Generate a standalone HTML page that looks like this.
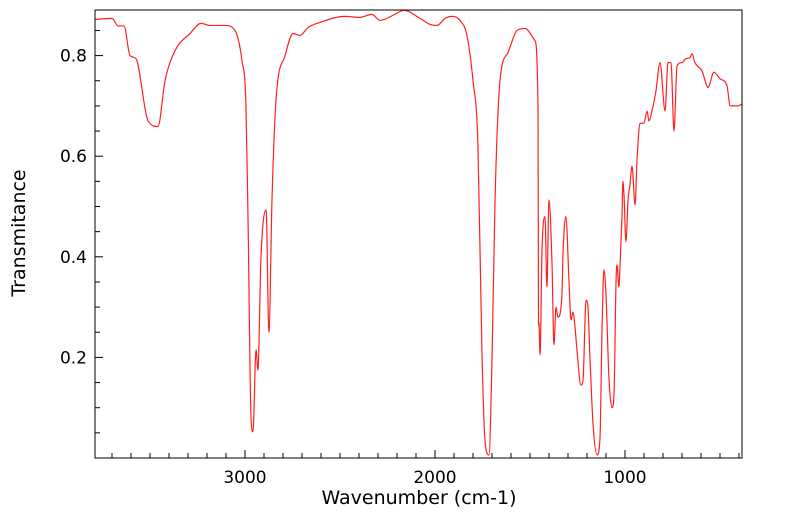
<!DOCTYPE html>
<html><head><meta charset="utf-8"><style>
body{margin:0;background:#fff;}
svg text{font-family:"DejaVu Sans","Liberation Sans",sans-serif;}
</style></head><body>
<svg id="chart" width="799" height="516" xmlns="http://www.w3.org/2000/svg">
<g id="axes"></g>
<path id="series" fill="none" stroke="#ff2020" stroke-width="1.2"/>
<rect x="95" y="10" width="647" height="448" fill="none" stroke="#000" stroke-width="1"/>
<text x="419" y="504" font-size="19" text-anchor="middle">Wavenumber (cm-1)</text>
<text x="25" y="233" font-size="19" text-anchor="middle" transform="rotate(-90 25 233)">Transmitance</text>
</svg>
<script>
const wavenumbers=[3789,3700,3668,3637,3605,3574,3511,3458,3421,3368,3289,3232,3184,3105,3053,3016,2995,2984,2968,2958,2942,2932,2916,2889,2874,2858,2837,2789,2747,2711,2668,2605,2474,2395,2332,2289,2211,2163,2079,2026,1989,1947,1911,1868,1832,1800,1774,1753,1737,1716,1700,1684,1658,1616,1568,1526,1474,1458,1455,1453,1447,1437,1421,1411,1400,1384,1374,1363,1353,1332,1326,1311,1295,1284,1274,1263,1253,1232,1221,1205,1195,1184,1168,1147,1132,1121,1111,1100,1084,1068,1058,1047,1042,1032,1026,1016,1011,1005,995,984,974,963,947,937,921,900,884,874,858,837,816,789,774,758,742,726,700,679,658,647,632,595,563,532,500,463,447,405,384];
const transmittance=[0.872,0.874,0.859,0.859,0.80,0.794,0.671,0.659,0.75,0.81,0.844,0.864,0.86,0.86,0.85,0.79,0.70,0.473,0.076,0.052,0.215,0.175,0.398,0.493,0.25,0.513,0.71,0.80,0.844,0.84,0.856,0.866,0.878,0.876,0.882,0.87,0.882,0.89,0.874,0.862,0.86,0.874,0.878,0.87,0.84,0.75,0.621,0.213,0.035,0.006,0.195,0.513,0.75,0.806,0.85,0.854,0.83,0.70,0.263,0.27,0.205,0.41,0.48,0.34,0.513,0.384,0.225,0.30,0.28,0.323,0.41,0.48,0.354,0.274,0.29,0.26,0.215,0.145,0.155,0.314,0.30,0.195,0.066,0.006,0.036,0.254,0.374,0.324,0.155,0.10,0.125,0.354,0.384,0.34,0.384,0.48,0.55,0.52,0.43,0.513,0.543,0.58,0.503,0.59,0.665,0.666,0.69,0.67,0.69,0.73,0.786,0.69,0.786,0.786,0.65,0.78,0.786,0.794,0.796,0.804,0.786,0.77,0.737,0.767,0.754,0.74,0.70,0.70,0.704];
const xTickLabels=[3000,2000,1000];
const yTickLabels=[0.2,0.4,0.6,0.8];
const L=95,R=742,T=10,B=458;
function xs(w){return 245+(3000-w)*0.19;}
function ys(t){return B-t*503;}
const ns="http://www.w3.org/2000/svg";
const ax=document.getElementById('axes');
function line(x1,y1,x2,y2,name){const l=document.createElementNS(ns,'line');l.setAttribute('x1',x1);l.setAttribute('y1',y1);l.setAttribute('x2',x2);l.setAttribute('y2',y2);l.setAttribute('stroke','#000');


ax.appendChild(l);}
function text(x,y,s,anchor,name){const t=document.createElementNS(ns,'text');t.setAttribute('x',x);t.setAttribute('y',y);t.setAttribute('font-size','17');t.setAttribute('text-anchor',anchor);t.textContent=s;


ax.appendChild(t);}
for(let w=3700;w>=400;w-=100){const x=xs(w);if(x<L||x>R)continue;const major=w%1000===0;line(x,B,x,B-(major?8:5),'x-tick');}
xTickLabels.forEach(w=>text(xs(w),B+25,String(w),'middle','x-tick-label'));
for(let k=1;k<=17;k++){const t=k*0.05;const y=ys(t);if(y<T)continue;const major=k%4===0;line(L,y,L+(major?8:5),y,'y-tick');}
yTickLabels.forEach(t=>text(L-8,ys(t)+6,t.toFixed(1),'end','y-tick-label'));
const px=wavenumbers.map(xs), py=transmittance.map(ys), n=px.length;
const sl=[];for(let i=0;i<n-1;i++)sl.push((py[i+1]-py[i])/(px[i+1]-px[i]));
const m=new Array(n);m[0]=sl[0];m[n-1]=sl[n-2];
for(let i=1;i<n-1;i++){m[i]=(sl[i-1]*sl[i]<=0)?0:(sl[i-1]+sl[i])/2;}
for(let i=0;i<n-1;i++){if(sl[i]===0){m[i]=0;m[i+1]=0;continue;}const a=m[i]/sl[i],b=m[i+1]/sl[i],s=a*a+b*b;if(s>9){const t=3/Math.sqrt(s);m[i]=t*a*sl[i];m[i+1]=t*b*sl[i];}}
let d='M'+px[0].toFixed(1)+','+py[0].toFixed(1);
for(let i=0;i<n-1;i++){const h=(px[i+1]-px[i])/3;d+='C'+(px[i]+h).toFixed(2)+','+(py[i]+m[i]*h).toFixed(2)+' '+(px[i+1]-h).toFixed(2)+','+(py[i+1]-m[i+1]*h).toFixed(2)+' '+px[i+1].toFixed(2)+','+py[i+1].toFixed(2);}
document.getElementById('series').setAttribute('d',d);
</script>
</body></html>
